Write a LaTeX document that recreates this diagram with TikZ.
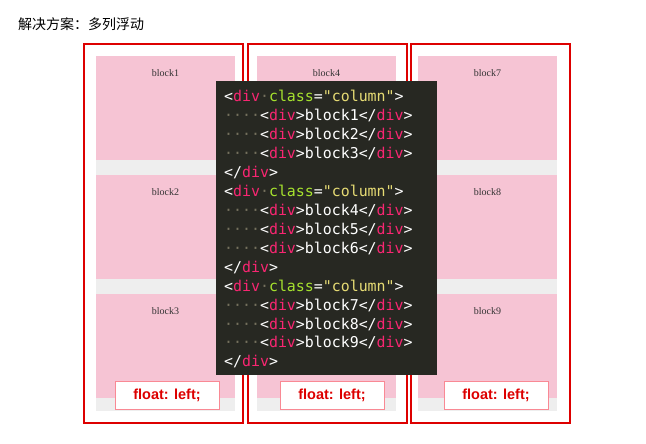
\documentclass[tikz,border=0pt]{standalone}
\usepackage{fontspec}
\setmainfont{Liberation Sans}
\newfontfamily\cjk{Noto Sans CJK SC}
\newfontfamily\codefont{DejaVu Sans Mono}
\newfontfamily\blockfont{Liberation Serif}
\usetikzlibrary{positioning}
\definecolor{blockpink}{HTML}{F6C4D4}
\definecolor{colgray}{HTML}{EEEEEE}
\definecolor{boxred}{HTML}{DD0000}
\definecolor{codebg}{HTML}{272822}
\definecolor{tagpink}{HTML}{F92672}
\definecolor{attrgreen}{HTML}{A6E22E}
\definecolor{stryellow}{HTML}{E6DB74}
\definecolor{dotgray}{HTML}{75715E}
\newcommand{\dt}{\textcolor{dotgray}{·}}
\newcommand{\tg}[1]{\textcolor{tagpink}{#1}}
\newcommand{\openline}{<\tg{div}\dt\textcolor{attrgreen}{class}=\textcolor{stryellow}{"column"}>}
\newcommand{\blockline}[1]{\dt\dt\dt\dt<\tg{div}>block#1</\tg{div}>}
\newcommand{\closeline}{</\tg{div}>}
\tikzset{
  colbox/.style={draw=boxred, line width=1.2pt},
  blocklabel/.style={font=\blockfont\fontsize{10}{11}\selectfont, text=black!80},
  floatlabel/.style={fill=white, draw=blockpink!70!red, line width=0.6pt, minimum width=104pt, minimum height=28pt, text=boxred, font=\bfseries\fontsize{14.5}{15}\selectfont},
  codeline/.style={anchor=base west, inner sep=0pt, text=white, font=\codefont\fontsize{14.9}{16}\selectfont},
}
\begin{document}
\begin{tikzpicture}[x=1pt, y=-1pt]
\useasboundingbox[fill=white] (0,0) rectangle (646,444);
\node[anchor=base west, inner sep=0pt, font=\cjk\fontsize{14}{16}\selectfont] (title) at (18,30) {解决方案：多列浮动};

% columns
\foreach \cx/\gx/\n in {84/96/1, 248/257/2, 411/418/3} {
  \draw[colbox] (\cx,44) rectangle ++(159,379);
  \fill[colgray] (\gx,56) rectangle ++(139,355);
  \foreach \r in {0,1,2} {
    \pgfmathtruncatemacro{\k}{(\n-1)*3+\r+1}
    \fill[blockpink] (\gx,56+119*\r) rectangle ++(139,104);
    \node[blocklabel] (b\k) at (\gx+69.5,73+119*\r) {block\k};
  }
}

% float labels
\node[floatlabel] (f1) at (167,395) {float: left;};
\node[floatlabel] (f2) at (332,395) {float: left;};
\node[floatlabel] (f3) at (496,395) {float: left;};

% code panel
\fill[codebg] (216,81) rectangle (437,375);
\foreach \i in {0,1,2} {
  \node[codeline] (o\i) at (224,102+94.6*\i) {\openline};
  \foreach \j in {1,2,3} {
    \pgfmathtruncatemacro{\k}{\i*3+\j}
    \node[codeline] (l\k) at (224,102+94.6*\i+18.9*\j) {\blockline{\k}};
  }
  \node[codeline] (c\i) at (224,102+94.6*\i+75.7) {\closeline};
}
\end{tikzpicture}
\end{document}
